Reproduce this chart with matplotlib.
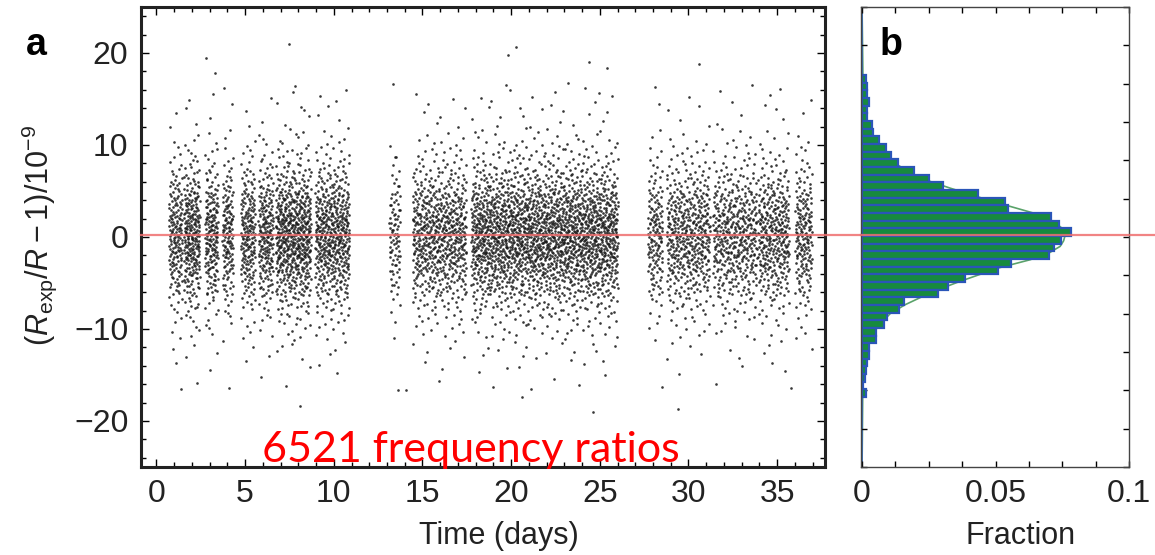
import numpy as np
import matplotlib
matplotlib.use("Agg")
import matplotlib.pyplot as plt
from matplotlib.ticker import MultipleLocator

plt.rcParams['font.family'] = ['Liberation Sans', 'DejaVu Sans']
plt.rcParams['mathtext.fontset'] = 'custom'
plt.rcParams['mathtext.rm'] = 'Liberation Sans'
plt.rcParams['mathtext.it'] = 'Liberation Sans:italic'
plt.rcParams['mathtext.bf'] = 'Liberation Sans:bold'

# measurement runs (days) and how many ratios fall in each run
band_start = [0.71, 1.55, 2.74, 3.72, 4.76, 5.75, 6.73, 8.95, 13.14, 14.44,
              17.75, 27.71, 28.77, 31.38, 33.93, 36.02]
band_end = [1.46, 2.44, 3.47, 4.32, 5.56, 6.58, 8.71, 10.88, 13.74, 17.47,
            26.02, 28.54, 31.21, 33.85, 35.68, 36.96]
band_count = [170, 250, 180, 140, 190, 200, 560, 480, 90, 620,
              2076, 150, 450, 430, 340, 180]

# isolated points far from the bulk
outlier_day = [2.8, 7.5, 19.8, 20.3, 24.4, 25.4, 30.6, 3.3, 8.1, 20.6, 29.4, 14.1, 1.4, 24.6, 35.8]
outlier_val = [19.5, 21.0, 19.8, 20.6, 19.0, 18.4, 18.8, 17.8, -18.4, -17.4, -18.7, -16.6, -16.5, -19.0, -16.4]

# panel b histogram, bins of 0.8 read from top (16.9) downwards
hist_top = 16.9
hist_bin = 0.8
hist_frac = [0.0015, 0.0017, 0.0020, 0.0025, 0.0020, 0.0018, 0.0036, 0.0042, 0.0065, 0.0089, 0.0107,
             0.0136, 0.0196, 0.0252, 0.0302, 0.0436, 0.0536, 0.0548, 0.0707, 0.0738, 0.0781,
             0.0744, 0.0719, 0.0700, 0.0557, 0.0511, 0.0386, 0.0323, 0.0286, 0.0157, 0.0140, 0.0095,
             0.0082, 0.0052, 0.0052, 0.0027, 0.0026, 0.0020, 0.0014, 0.0011, 0.0005, 0.0014]

# fitted curve
fit_val = [-24, -15, -12, -10, -8.0, -7.07, -5.68, -4.63, -3.24, -2.37, -1.67, -0.98, -0.4, 0.3,
           0.9, 1.63, 2.5, 3.2, 4.07, 5.1, 5.8, 6.5, 7.5, 8.5, 10, 12, 15, 24]
fit_frac = [0.0, 0.0003, 0.0017, 0.004, 0.0105, 0.0161, 0.0267, 0.0367, 0.051, 0.063, 0.070, 0.0742, 0.0755, 0.0762,
            0.075, 0.0717, 0.0642, 0.0554, 0.0448, 0.033, 0.0255, 0.019, 0.0135, 0.009, 0.005, 0.002, 0.0004, 0.0]

ref_level = 0.25

# y values of the ratios follow the histogram shape
fr = np.array(hist_frac[::-1])
lows = hist_top - hist_bin * len(fr) + hist_bin * np.arange(len(fr))
cdf = np.cumsum(fr) / fr.sum()

def from_hist(p):
    k = np.searchsorted(cdf, p)
    prev = np.where(k > 0, cdf[np.maximum(k - 1, 0)], 0.0)
    return lows[k] + hist_bin * (p - prev) / (fr[k] / fr.sum())

def halton(idx, base):
    idx = idx.copy()
    out = np.zeros(len(idx))
    f = 1.0
    while idx.max() > 0:
        f /= base
        out += f * (idx % base)
        idx //= base
    return out

xs, ys = [], []
start = 1
for s, e, n in zip(band_start, band_end, band_count):
    i = np.arange(start, start + n)
    start += n
    xs.append(s + (e - s) * halton(i, 2))
    ys.append(from_hist(np.clip(halton(i, 3), 1e-4, 1 - 1e-4)))
xs.append(np.array(outlier_day))
ys.append(np.array(outlier_val))
x = np.concatenate(xs)
y = np.concatenate(ys)

W, H = 1155, 555
fig = plt.figure(figsize=(W / 100, H / 100), dpi=100)
ax = fig.add_axes([141 / W, 1 - 467 / H, 684 / W, 460 / H])
axb = fig.add_axes([861 / W, 1 - 467 / H, 268 / W, 460 / H])
axb.patch.set_visible(False)

# panel a
ax.scatter(x, y, s=3.6, c='#151515', linewidths=0, alpha=0.85)
ax.axhline(ref_level, xmin=0, xmax=(862 - 141) / 684, clip_on=False,
           color='#ef6f6f', lw=1.6, alpha=0.85, zorder=5)
ax.set_xlim(-0.87, 37.7)
ax.set_ylim(-25, 25)
ax.xaxis.set_major_locator(MultipleLocator(5))
ax.xaxis.set_minor_locator(MultipleLocator(1))
ax.yaxis.set_minor_locator(MultipleLocator(2))
ax.set_yticks([-20, -10, 0, 10, 20], ['\u221220', '\u221210', '0', '10', '20'])
ax.tick_params(which='both', direction='in', top=True, right=True, width=1,
               labelsize=23, labelcolor='#222222', pad=9)
ax.tick_params(which='major', length=6)
ax.tick_params(which='minor', length=3.5)
for sp in ax.spines.values():
    sp.set_linewidth(2.2)
    sp.set_color('#222222')
ax.set_xlabel('Time (days)', fontsize=22, color='#222222')
ax.xaxis.set_label_coords(0.523, -0.117)

# panel b
centers = hist_top - hist_bin / 2 - hist_bin * np.arange(len(hist_frac))
axb.plot(fit_frac, fit_val, color='#5aa36a', lw=1.2, zorder=1)
axb.barh(centers, hist_frac, height=hist_bin, color='#178a3e', edgecolor='#2a55b8',
         linewidth=1.6, zorder=2)
axb.axvline(0, color='#3a66c0', lw=1.2, zorder=1)
axb.axhline(ref_level, xmin=0, xmax=(W - 861) / 268, clip_on=False,
            color='#ef6f6f', lw=1.6, alpha=0.85, zorder=5)
axb.set_xlim(-0.0004, 0.1)
axb.set_ylim(-24, 24)
axb.set_xticks([0, 0.05, 0.1], ['0', '0.05', '0.1'])
axb.xaxis.set_minor_locator(MultipleLocator(0.0125))
axb.yaxis.set_major_locator(MultipleLocator(4))
axb.tick_params(which='both', direction='in', top=True, right=True, length=4, width=1,
                labelsize=23, labelcolor='#222222', labelleft=False, pad=9)
for sp in axb.spines.values():
    sp.set_linewidth(1.0)
    sp.set_color('#444444')
axb.set_xlabel('Fraction', fontsize=22, color='#222222')
axb.xaxis.set_label_coords(0.597, -0.117)

fig.text(39 / W, 1 - 235 / H, r'$(R_{\mathrm{exp}}/R - 1)/10^{-9}$', rotation=90,
         fontsize=22, ha='center', va='center', color='#222222')
fig.text(36 / W, 1 - 55 / H, 'a', fontsize=27, fontweight='bold', ha='center', va='baseline')
fig.text(891 / W, 1 - 55 / H, 'b', fontsize=27, fontweight='bold', ha='center', va='baseline')
fig.text(262 / W, 1 - 462 / H, '6521 frequency ratios', color='red', fontsize=31,
         family=['Lato', 'DejaVu Sans'], ha='left', va='baseline', zorder=10)

fig.savefig('out.png', dpi=100)
